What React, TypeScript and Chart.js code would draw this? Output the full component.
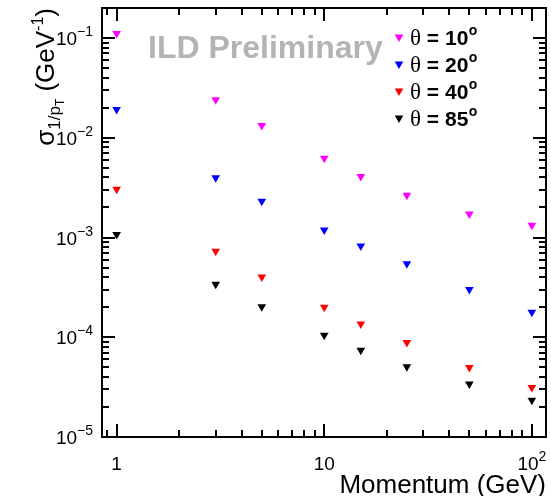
import { useEffect, useRef } from 'react';
import { Chart, registerables } from 'chart.js';

Chart.register(...registerables);

// ---- data ----
const momenta = [1, 3, 5, 10, 15, 25, 50, 100];
const sigma10 = [0.111, 0.024, 0.0133, 0.00625, 0.0041, 0.00265, 0.00172, 0.00133];
const sigma20 = [0.0192, 0.00398, 0.00231, 0.00119, 0.000824, 0.000545, 0.000302, 0.000178];
const sigma40 = [0.00304, 0.00073, 0.000401, 0.0002, 0.000136, 0.0000884, 0.0000497, 0.0000313];
const sigma85 = [0.00107, 0.000339, 0.000202, 0.000105, 0.0000741, 0.0000505, 0.0000339, 0.0000234];
const seriesAngles = ['10', '20', '40', '85'];
const seriesColors = ['#ff00ff', '#0000ff', '#ff0000', '#000000'];
const seriesValues = [sigma10, sigma20, sigma40, sigma85];

const xTickValues = [1, 10, 100];
const xTickBases = ['1', '10', '10'];
const xTickExponents = ['', '', '2'];
const yTickValues = [1e-5, 1e-4, 1e-3, 1e-2, 1e-1];
const yTickExponents = ['\u22125', '\u22124', '\u22123', '\u22122', '\u22121'];

const xTitle = 'Momentum (GeV)';
const watermark = 'ILD Preliminary';

const SANS = '"Liberation Sans", Arial, Helvetica, sans-serif';
const SERIF = '"Liberation Serif", "Times New Roman", serif';

const rootPlugin = {
  id: 'rootStyle',
  afterDraw(chart: any) {
    const ctx: CanvasRenderingContext2D = chart.ctx;
    const { left, right, top, bottom } = chart.chartArea;
    const xs = chart.scales.x;
    const ys = chart.scales.y;
    ctx.save();
    ctx.strokeStyle = '#000';
    ctx.fillStyle = '#000';
    ctx.lineWidth = 2;
    ctx.lineCap = 'butt';

    // frame
    ctx.strokeRect(left, top, right - left, bottom - top);

    const MAJ = 13;
    const MIN = 7;
    // x ticks
    for (let d = -1; d <= 2; d++) {
      for (let m = 1; m <= 9; m++) {
        const v = m * Math.pow(10, d);
        if (v < xs.min || v > xs.max) continue;
        const px = Math.round(xs.getPixelForValue(v));
        const len = m === 1 ? MAJ : MIN;
        ctx.beginPath();
        ctx.moveTo(px, bottom);
        ctx.lineTo(px, bottom - len);
        ctx.moveTo(px, top);
        ctx.lineTo(px, top + len);
        ctx.stroke();
      }
    }
    // y ticks
    for (let d = -6; d <= 0; d++) {
      for (let m = 1; m <= 9; m++) {
        const v = m * Math.pow(10, d);
        if (v < ys.min * 0.999 || v > ys.max) continue;
        const py = Math.round(ys.getPixelForValue(v));
        const len = m === 1 ? MAJ : MIN;
        ctx.beginPath();
        ctx.moveTo(left, py);
        ctx.lineTo(left + len, py);
        ctx.moveTo(right, py);
        ctx.lineTo(right - len, py);
        ctx.stroke();
      }
    }

    const mainFont = `19px ${SANS}`;
    const supFont = `14px ${SANS}`;
    ctx.textAlign = 'left';
    ctx.textBaseline = 'alphabetic';

    // y tick labels
    yTickValues.forEach((v, i) => {
      const py = ys.getPixelForValue(v);
      ctx.font = supFont;
      const w2 = ctx.measureText(yTickExponents[i]).width;
      ctx.font = mainFont;
      const w1 = ctx.measureText('10').width;
      const xEnd = left - 9;
      ctx.fillText('10', xEnd - w2 - w1, py + 7);
      ctx.font = supFont;
      ctx.fillText(yTickExponents[i], xEnd - w2, py - 2);
    });

    // x tick labels
    xTickValues.forEach((v, i) => {
      const px = xs.getPixelForValue(v);
      ctx.font = mainFont;
      const w1 = ctx.measureText(xTickBases[i]).width;
      ctx.font = supFont;
      const w2 = xTickExponents[i] ? ctx.measureText(xTickExponents[i]).width : 0;
      const start = px - (w1 + w2) / 2;
      ctx.font = mainFont;
      ctx.fillText(xTickBases[i], start, bottom + 33);
      if (xTickExponents[i]) {
        ctx.font = supFont;
        ctx.fillText(xTickExponents[i], start + w1, bottom + 24);
      }
    });

    // x title
    ctx.font = `26px ${SANS}`;
    ctx.textAlign = 'right';
    ctx.fillText(xTitle, right, bottom + 56);
    ctx.textAlign = 'left';

    // y title (rotated)
    ctx.save();
    ctx.translate(54, 0);
    ctx.rotate(-Math.PI / 2);
    const parts: { t: string; size: number; dv: number }[] = [
      { t: '\u03c3', size: 26, dv: 0 },
      { t: '1/p', size: 17, dv: 6 },
      { t: 'T', size: 12, dv: 10 },
      { t: ' (GeV', size: 26, dv: 0 },
      { t: '-1', size: 16, dv: -11 },
      { t: ')', size: 26, dv: 0 },
    ];
    let total = 0;
    parts.forEach((p) => {
      ctx.font = `${p.size}px ${SANS}`;
      total += ctx.measureText(p.t).width;
    });
    let u = -8 - total;
    parts.forEach((p) => {
      ctx.font = `${p.size}px ${SANS}`;
      ctx.fillText(p.t, u, p.dv);
      u += ctx.measureText(p.t).width;
    });
    ctx.restore();

    // watermark
    ctx.font = `bold 32px ${SANS}`;
    ctx.fillStyle = '#b4b4b4';
    ctx.fillText(watermark, 148, 58);

    // legend
    seriesAngles.forEach((a, i) => {
      const cy = 37 + 27 * i;
      const mx = 399;
      const r = 5;
      ctx.fillStyle = seriesColors[i];
      ctx.beginPath();
      ctx.moveTo(mx - r * 0.866, cy - r * 0.5);
      ctx.lineTo(mx + r * 0.866, cy - r * 0.5);
      ctx.lineTo(mx, cy + r);
      ctx.closePath();
      ctx.fill();
      ctx.fillStyle = '#000';
      let x = 410;
      const base = cy + 7.5;
      ctx.font = `23px ${SERIF}`;
      ctx.fillText('\u03b8', x, base);
      x += ctx.measureText('\u03b8').width;
      ctx.font = `bold 21px ${SANS}`;
      const mid = ' = ' + a;
      ctx.fillText(mid, x, base);
      x += ctx.measureText(mid).width;
      ctx.font = `bold 14px ${SANS}`;
      ctx.fillText('o', x + 0.5, base - 10);
    });

    ctx.restore();
  },
};

export default function App() {
  const canvasRef = useRef<HTMLCanvasElement | null>(null);

  useEffect(() => {
    const canvas = canvasRef.current;
    if (!canvas) return;
    const datasets = seriesValues.map((vals, i) => ({
      label: '\u03b8 = ' + seriesAngles[i] + '\u00b0',
      data: momenta.map((m, j) => ({ x: m, y: vals[j] })),
      pointStyle: 'triangle' as const,
      rotation: 180,
      pointRadius: 5,
      pointHoverRadius: 5,
      backgroundColor: seriesColors[i],
      borderColor: seriesColors[i],
      borderWidth: 0,
      showLine: false,
    }));
    const chart = new Chart(canvas, {
      type: 'scatter',
      data: { datasets },
      options: {
        animation: false,
        responsive: false,
        devicePixelRatio: 1,
        layout: { padding: { left: 102, right: 3, top: 8, bottom: 59 } },
        plugins: { legend: { display: false }, tooltip: { enabled: false } },
        scales: {
          x: { type: 'logarithmic', min: 0.85, max: 117, display: false },
          y: { type: 'logarithmic', min: 1e-5, max: 0.2, display: false },
        },
      },
      plugins: [rootPlugin],
    });
    return () => chart.destroy();
  }, []);

  return (
    <div style={{ position: 'fixed', left: 0, top: 0, width: 551, height: 496, background: '#fff' }}>
      <canvas ref={canvasRef} width={551} height={496} style={{ display: 'block' }} />
    </div>
  );
}
